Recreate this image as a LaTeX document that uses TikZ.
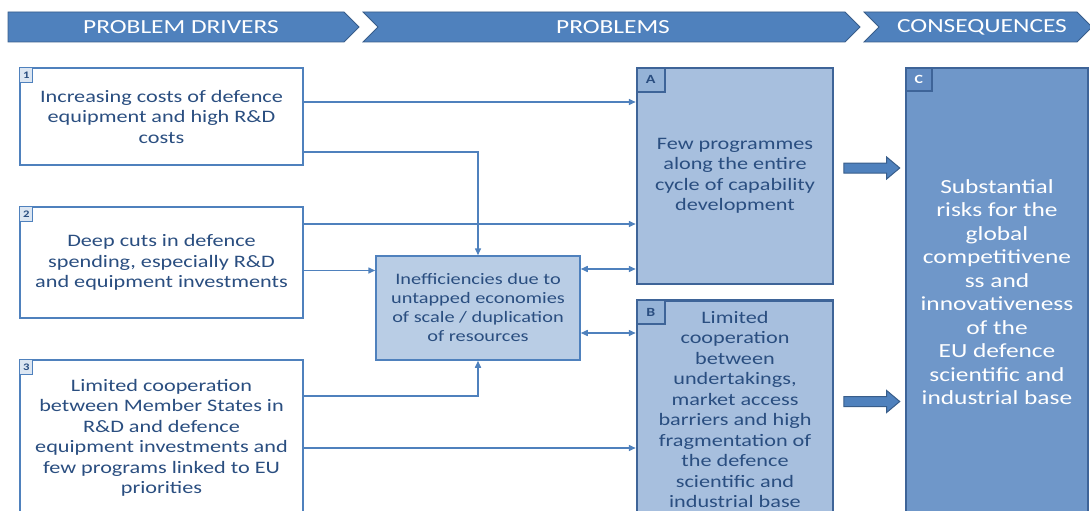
\documentclass[tikz,border=0pt]{standalone}
\usepackage{fontspec}
\setmainfont[FakeStretch=1.27]{Carlito}
\usetikzlibrary{positioning, calc, shapes.arrows, arrows.meta}

\definecolor{hdrblue}{RGB}{79,129,189}
\definecolor{hdrline}{RGB}{56,93,138}
\definecolor{linkblue}{RGB}{79,129,189}
\definecolor{txtblue}{RGB}{42,78,128}
\definecolor{tagfill}{RGB}{220,230,242}
\definecolor{midfill}{RGB}{185,205,229}
\definecolor{probfill}{RGB}{167,191,222}
\definecolor{probtag}{RGB}{149,179,215}
\definecolor{probline}{RGB}{62,100,152}
\definecolor{consfill}{RGB}{111,151,201}
\definecolor{constag}{RGB}{98,139,193}

\begin{document}
\begin{tikzpicture}[x=1pt, y=-1pt, >={Triangle[length=7pt,width=6pt]},
   hdr/.style={fill=hdrblue, draw=hdrline, line width=0.8pt},
   hdrtext/.style={text=white, font=\fontsize{20}{22}\selectfont},
   driver/.style={draw=linkblue, line width=1.2pt, fill=white, text=txtblue, align=center,
      minimum width=283pt, font=\fontsize{17.5}{20.5}\selectfont},
   numtag/.style={draw=linkblue, line width=1pt, fill=tagfill, text=txtblue, anchor=north west,
      minimum width=13pt, minimum height=15pt, inner sep=0pt, font=\fontsize{10}{10}\bfseries\selectfont},
   midbox/.style={draw=linkblue, line width=1.5pt, fill=midfill, text=txtblue, align=center,
      minimum width=204pt, minimum height=104pt, font=\fontsize{16}{19}\selectfont},
   probbox/.style={draw=probline, line width=2.5pt, fill=probfill, text=txtblue, align=center,
      minimum width=196pt, font=\fontsize{17.5}{20.5}\selectfont},
   lettag/.style={draw=probline, line width=2pt, fill=probtag, text=txtblue, anchor=north west,
      minimum width=28pt, minimum height=24pt, inner sep=0pt, font=\fontsize{12.5}{12.5}\bfseries\selectfont},
   link/.style={draw=linkblue, line width=1.5pt},
   fatarrow/.style={single arrow, draw=hdrline, fill=hdrblue, line width=1pt, anchor=tail,
      minimum height=56pt, inner sep=4.5pt, single arrow head extend=6pt, single arrow tip angle=80}]
   \useasboundingbox (0,0) rectangle (1090,511);

   % header
   \draw[hdr] (8,12) -- (344,12) -- (359,27) -- (344,42) -- (8,42) -- cycle;
   \draw[hdr] (363,12) -- (845,12) -- (860,27) -- (845,42) -- (363,42) -- (378,27) -- cycle;
   \draw[hdr] (864,12) -- (1077,12) -- (1092,27) -- (1077,42) -- (864,42) -- (879,27) -- cycle;
   \node[hdrtext] (h1) at (181,27) {PROBLEM DRIVERS};
   \node[hdrtext] (h2) at (613,27) {PROBLEMS};
   \node[hdrtext] (h3) at (982,27) {CONSEQUENCES};

   % drivers
   \node[driver, minimum height=97pt] (b1) at (161.5,116.5)
      {Increasing costs of defence\\equipment and high R\&D\\costs};
   \node[driver, minimum height=111pt] (b2) at (161.5,262.5)
      {Deep cuts in defence\\spending, especially R\&D\\and equipment investments};
   \node[driver, minimum height=156pt] (b3) at (161.5,438)
      {Limited cooperation\\between Member States in\\R\&D and defence\\equipment investments and\\few programs linked to EU\\priorities};
   \node[numtag] (t1) at (b1.north west) {1};
   \node[numtag] (t2) at (b2.north west) {2};
   \node[numtag] (t3) at (b3.north west) {3};

   % problems
   \node[midbox] (mid) at (478,308)
      {Inefficiencies due to\\untapped economies\\of scale / duplication\\of resources};
   \node[probbox, minimum height=216pt] (pA) at (735,176)
      {Few programmes\\along the entire\\cycle of capability\\development};
   \node[probbox, minimum height=218pt, below=14pt of pA] (pB)
      {Limited\\cooperation\\between\\undertakings,\\market access\\barriers and high\\fragmentation of\\the defence\\scientific and\\industrial base};
   \node[lettag] (tA) at (pA.north west) {A};
   \node[lettag] (tB) at (pB.north west) {B};

   % consequences
   \node[probbox, fill=consfill, text=white, minimum width=182pt, minimum height=448pt,
      font=\fontsize{20}{23.5}\selectfont] (cC) at (997,292)
      {Substantial\\risks for the\\global\\competitivene\\ss and\\innovativeness\\of the\\EU defence\\scientific and\\industrial base};
   \node[lettag, fill=constag, text=white, minimum width=26pt, minimum height=23pt] (tC) at (cC.north west) {C};

   % links
   \draw[link, ->] ([yshift=14.5pt]b1.east) coordinate (s1) -- (s1 -| pA.west);
   \draw[link, ->] ([yshift=-35.5pt]b1.east) -| (mid.north);
   \draw[link, ->] ([yshift=38.5pt]b2.east) coordinate (s3) -- (s3 -| pA.west);
   \draw[link, ->] ([yshift=-8pt]b2.east) coordinate (s4) -- (s4 -| mid.west);
   \draw[link, ->] ([yshift=42pt]b3.east) -| (mid.south);
   \draw[link, ->] ([yshift=-10pt]b3.east) coordinate (s6) -- (s6 -| pB.west);
   \draw[link, <->] ([yshift=39pt]mid.east) coordinate (s7) -- (s7 -| pA.west);
   \draw[link, <->] ([yshift=-25pt]mid.east) coordinate (s8) -- (s8 -| pB.west);

   \node[fatarrow] (fA) at ([xshift=9pt,yshift=8pt]pA.east) {};
   \node[fatarrow] (fB) at ([xshift=9pt,yshift=8pt]pB.east) {};
\end{tikzpicture}
\end{document}
